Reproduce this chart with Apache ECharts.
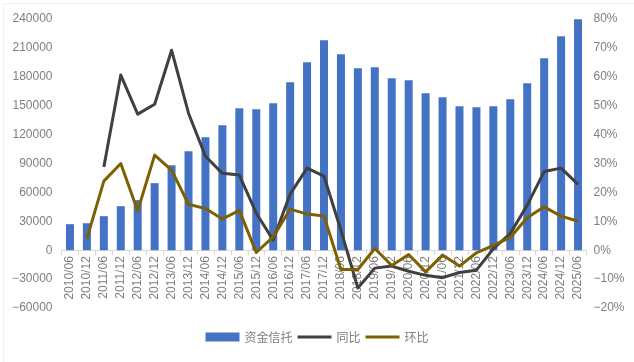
<!DOCTYPE html>
<html>
<head>
<meta charset="utf-8">
<script src="https://cdn.jsdelivr.net/npm/echarts@6/dist/echarts.min.js"></script>
<style>
html,body{margin:0;padding:0;background:#fff;}
#chart{width:634px;height:362px;}
</style>
</head>
<body>
<div id="chart"></div>
<script>
var categories = ['2010/06','2010/12','2011/06','2011/12','2012/06','2012/12','2013/06','2013/12','2014/06','2014/12','2015/06','2015/12','2016/06','2016/12','2017/06','2017/12','2018/06','2018/12','2019/06','2019/12','2020/06','2020/12','2021/06','2021/12','2022/06','2022/12','2023/06','2023/12','2024/06','2024/12','2025/06'];
var trustValues = [27000, 28000, 35300, 45700, 52000, 69600, 88200, 102800, 117300, 129800, 147400, 146400, 152600, 174400, 195200, 218000, 203500, 189000, 190000, 178600, 176500, 163000, 158800, 149500, 148500, 149500, 156800, 173400, 199300, 222200, 239800];
var yoyValues = [null, null, 28.8, 60.6, 47.1, 50.5, 69.2, 47.4, 32.5, 26.6, 26.0, 12.8, 3.5, 19.4, 28.4, 25.6, 6.9, -13.1, -6.2, -5.5, -7.3, -8.7, -9.5, -7.7, -6.9, 0.5, 5.8, 15.6, 27.2, 28.4, 22.8];
var qoqValues = [null, 4.0, 23.9, 30.0, 13.6, 32.9, 27.7, 15.9, 14.4, 10.8, 13.8, -0.8, 4.6, 14.2, 12.5, 11.8, -6.7, -6.7, 0.6, -5.3, -1.5, -7.5, -1.7, -5.5, -0.9, 1.7, 4.4, 11.2, 15.0, 11.8, 10.0];
var seriesNames = ['资金信托', '同比', '环比'];

var labelColor = '#7f7f7f';
var fontFam = '"Liberation Sans", Arial, "Noto Sans CJK SC", sans-serif';
var lineIcon = 'path://M0,0H36V3H0Z';
var gridBottom = 54;
var chart = echarts.init(document.getElementById('chart'), null, {renderer: 'canvas'});
chart.setOption({
  animation: false,
  graphic: [{
    type: 'rect', left: 1, top: 1, silent: true,
    shape: {width: 631, height: 359},
    style: {fill: 'none', stroke: '#efefef', lineWidth: 1}
  }],
  grid: {left: 61.5, right: 47.5, top: 19, bottom: gridBottom, containLabel: false},
  legend: {
    bottom: 14,
    left: 'center',
    itemGap: 5,
    itemWidth: 34,
    itemHeight: 9,
    symbolKeepAspect: true,
    textStyle: {color: labelColor, fontSize: 12, fontFamily: '"Noto Sans CJK SC", sans-serif'},
    data: [
      {name: seriesNames[0], icon: 'rect'},
      {name: seriesNames[1], icon: lineIcon},
      {name: seriesNames[2], icon: lineIcon}
    ]
  },
  xAxis: {
    type: 'category',
    data: categories,
    boundaryGap: true,
    axisLine: {onZero: false, lineStyle: {color: '#d9d9d9', width: 1}},
    axisTick: {show: true, alignWithLabel: false, length: 5, lineStyle: {color: '#d9d9d9'}},
    axisLabel: {rotate: 90, interval: 0, color: labelColor, fontSize: 12, fontFamily: fontFam, margin: 6},
    splitLine: {show: false}
  },
  yAxis: [
    {
      type: 'value', min: -60000, max: 240000, interval: 30000,
      axisLine: {show: false}, axisTick: {show: false}, splitLine: {show: false},
      axisLabel: {color: labelColor, fontSize: 12, fontFamily: fontFam, margin: 9,
        formatter: function (v) { return String(v).replace('-', '\u2212'); }}
    },
    {
      type: 'value', min: -20, max: 80, interval: 10,
      axisLine: {show: false}, axisTick: {show: false}, splitLine: {show: false},
      axisLabel: {color: labelColor, fontSize: 12, fontFamily: fontFam, margin: 7,
        formatter: function (v) { return String(v).replace('-', '\u2212') + '%'; }}
    }
  ],
  series: [
    {
      name: seriesNames[0], type: 'bar', data: trustValues, yAxisIndex: 0,
      barWidth: 8, itemStyle: {color: '#4472c4'}
    },
    {
      name: seriesNames[1], type: 'line', data: yoyValues, yAxisIndex: 1,
      symbol: 'none', lineStyle: {color: '#404040', width: 3, join: 'round'},
      itemStyle: {color: '#404040'}
    },
    {
      name: seriesNames[2], type: 'line', data: qoqValues, yAxisIndex: 1,
      symbol: 'none', lineStyle: {color: '#7f6000', width: 3, join: 'round'},
      itemStyle: {color: '#7f6000'}
    }
  ]
});
// move the category axis up to the zero line of the left value axis
var zeroY = chart.convertToPixel({yAxisIndex: 0}, 0);
var bottomY = chart.getHeight() - gridBottom;
chart.setOption({xAxis: {offset: zeroY - bottomY}});
</script>
</body>
</html>
